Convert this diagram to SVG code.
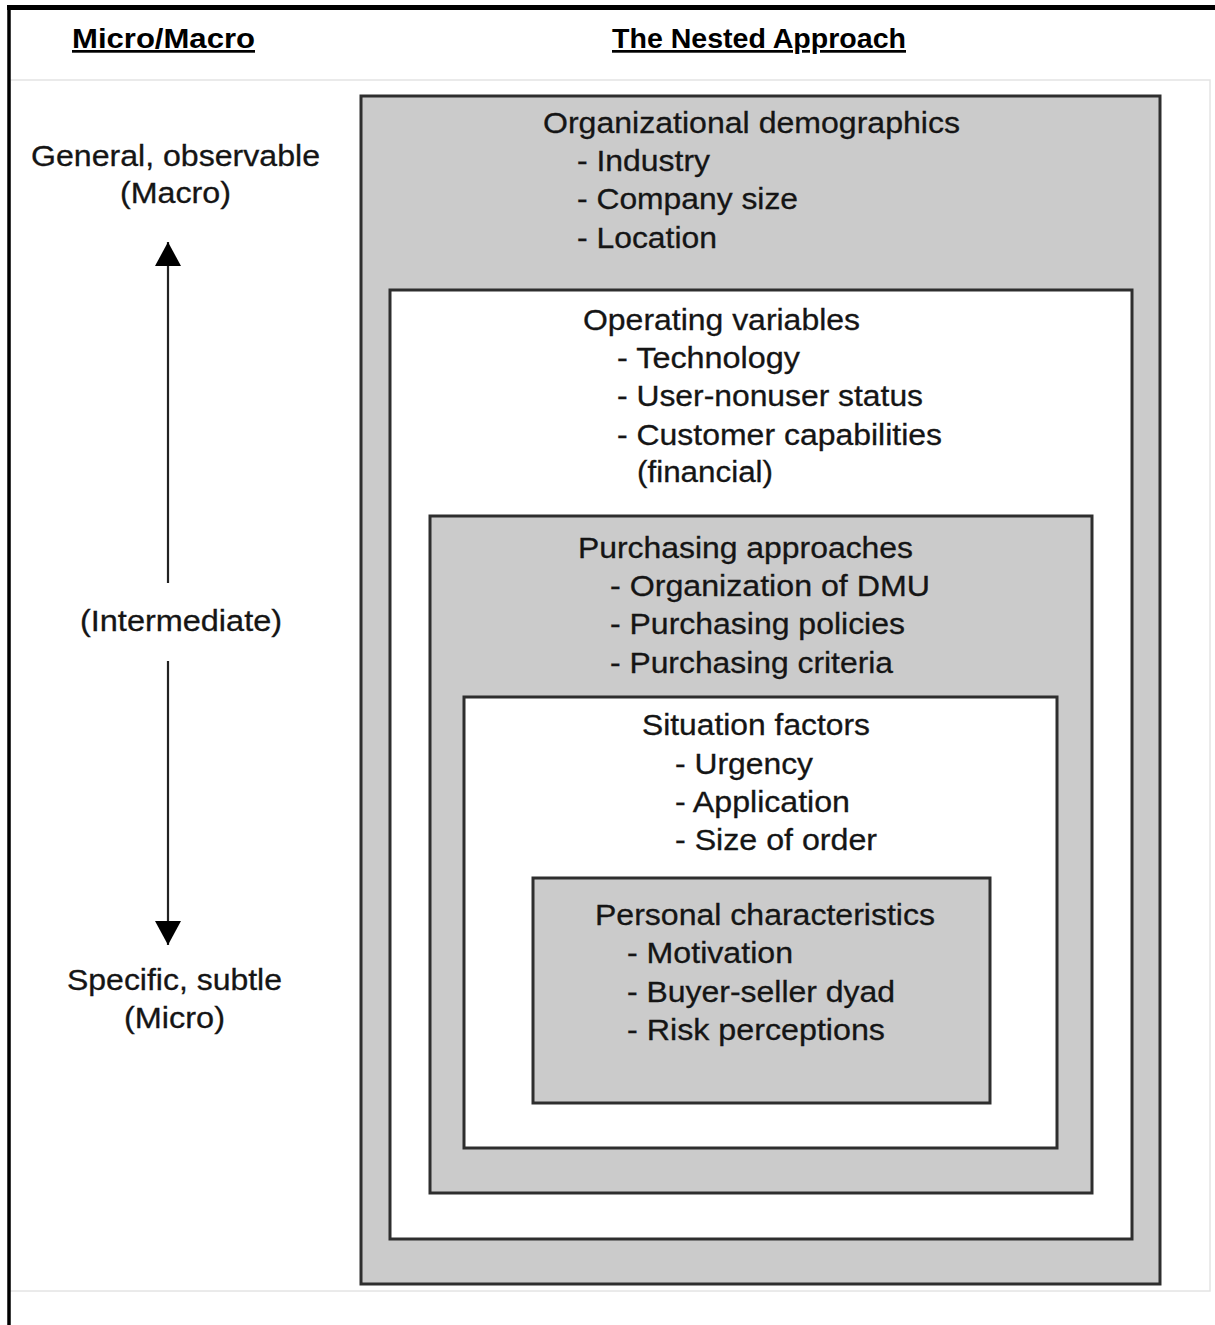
<svg xmlns="http://www.w3.org/2000/svg" width="1215" height="1325" viewBox="0 0 1215 1325">
<style>
.box{stroke:#2e2e2e;stroke-width:3}
.grey{fill:#cbcbcb}
.white{fill:#ffffff}
.t{font-family:"Liberation Sans",Arial,sans-serif;font-size:29px;fill:#151515;stroke:#151515;stroke-width:0.3}
.h{font-family:"Liberation Sans",Arial,sans-serif;font-size:27px;font-weight:bold;fill:#000;text-decoration:underline}
.ax{stroke:#222;stroke-width:2.2;fill:none}
</style>
<defs>
<marker id="ahb" viewBox="0 0 26 26" refX="24" refY="13" markerWidth="26" markerHeight="26" markerUnits="userSpaceOnUse" orient="auto">
<path d="M0,0 L24,13 L0,26 z" fill="#000"/>
</marker>
</defs>
<rect x="0" y="0" width="1215" height="1325" fill="#fff"/>
<g id="frame">
<rect x="10" y="80" width="1200" height="1211" fill="#fff" stroke="#e4e4e4" stroke-width="1.5"/>
<line x1="7" y1="7.5" x2="1215" y2="7.5" stroke="#000" stroke-width="5"/>
<line x1="9" y1="5" x2="9" y2="1325" stroke="#000" stroke-width="3.5"/>
</g>
<g id="headers">
<text class="h" x="72" y="48" textLength="183" lengthAdjust="spacingAndGlyphs">Micro/Macro</text>
<text class="h" x="612" y="48" textLength="294" lengthAdjust="spacingAndGlyphs">The Nested Approach</text>
</g>
<g id="scale-labels">
<text class="t" x="31" y="166" textLength="289" lengthAdjust="spacingAndGlyphs">General, observable</text>
<text class="t" x="120" y="203" textLength="111" lengthAdjust="spacingAndGlyphs">(Macro)</text>
<text class="t" x="80" y="631" textLength="202" lengthAdjust="spacingAndGlyphs">(Intermediate)</text>
<text class="t" x="67" y="990" textLength="215" lengthAdjust="spacingAndGlyphs">Specific, subtle</text>
<text class="t" x="124" y="1028" textLength="101" lengthAdjust="spacingAndGlyphs">(Micro)</text>
</g>
<g id="connectors">
<line class="ax" x1="168" y1="583" x2="168" y2="242" marker-end="url(#ahb)"/>
<line class="ax" x1="168" y1="661" x2="168" y2="945" marker-end="url(#ahb)"/>
</g>
<g id="organizational-demographics">
<rect class="box grey" x="361" y="96" width="799" height="1188"/>
<text class="t" x="543" y="133" textLength="417" lengthAdjust="spacingAndGlyphs">Organizational demographics</text>
<text class="t" x="577" y="171" textLength="133" lengthAdjust="spacingAndGlyphs">- Industry</text>
<text class="t" x="577" y="209" textLength="221" lengthAdjust="spacingAndGlyphs">- Company size</text>
<text class="t" x="577" y="248" textLength="140" lengthAdjust="spacingAndGlyphs">- Location</text>
</g>
<g id="operating-variables">
<rect class="box white" x="390" y="290" width="742" height="949"/>
<text class="t" x="583" y="330" textLength="277" lengthAdjust="spacingAndGlyphs">Operating variables</text>
<text class="t" x="617" y="368" textLength="183" lengthAdjust="spacingAndGlyphs">- Technology</text>
<text class="t" x="617" y="406" textLength="306" lengthAdjust="spacingAndGlyphs">- User-nonuser status</text>
<text class="t" x="617" y="445" textLength="325" lengthAdjust="spacingAndGlyphs">- Customer capabilities</text>
<text class="t" x="637" y="482" textLength="136" lengthAdjust="spacingAndGlyphs">(financial)</text>
</g>
<g id="purchasing-approaches">
<rect class="box grey" x="430" y="516" width="662" height="677"/>
<text class="t" x="578" y="558" textLength="335" lengthAdjust="spacingAndGlyphs">Purchasing approaches</text>
<text class="t" x="610" y="596" textLength="320" lengthAdjust="spacingAndGlyphs">- Organization of DMU</text>
<text class="t" x="610" y="634" textLength="295" lengthAdjust="spacingAndGlyphs">- Purchasing policies</text>
<text class="t" x="610" y="673" textLength="283" lengthAdjust="spacingAndGlyphs">- Purchasing criteria</text>
</g>
<g id="situation-factors">
<rect class="box white" x="464" y="697" width="593" height="451"/>
<text class="t" x="642" y="735" textLength="228" lengthAdjust="spacingAndGlyphs">Situation factors</text>
<text class="t" x="675" y="774" textLength="138" lengthAdjust="spacingAndGlyphs">- Urgency</text>
<text class="t" x="675" y="812" textLength="175" lengthAdjust="spacingAndGlyphs">- Application</text>
<text class="t" x="675" y="850" textLength="202" lengthAdjust="spacingAndGlyphs">- Size of order</text>
</g>
<g id="personal-characteristics">
<rect class="box grey" x="533" y="878" width="457" height="225"/>
<text class="t" x="595" y="925" textLength="340" lengthAdjust="spacingAndGlyphs">Personal characteristics</text>
<text class="t" x="627" y="963" textLength="166" lengthAdjust="spacingAndGlyphs">- Motivation</text>
<text class="t" x="627" y="1002" textLength="268" lengthAdjust="spacingAndGlyphs">- Buyer-seller dyad</text>
<text class="t" x="627" y="1040" textLength="258" lengthAdjust="spacingAndGlyphs">- Risk perceptions</text>
</g>
</svg>
